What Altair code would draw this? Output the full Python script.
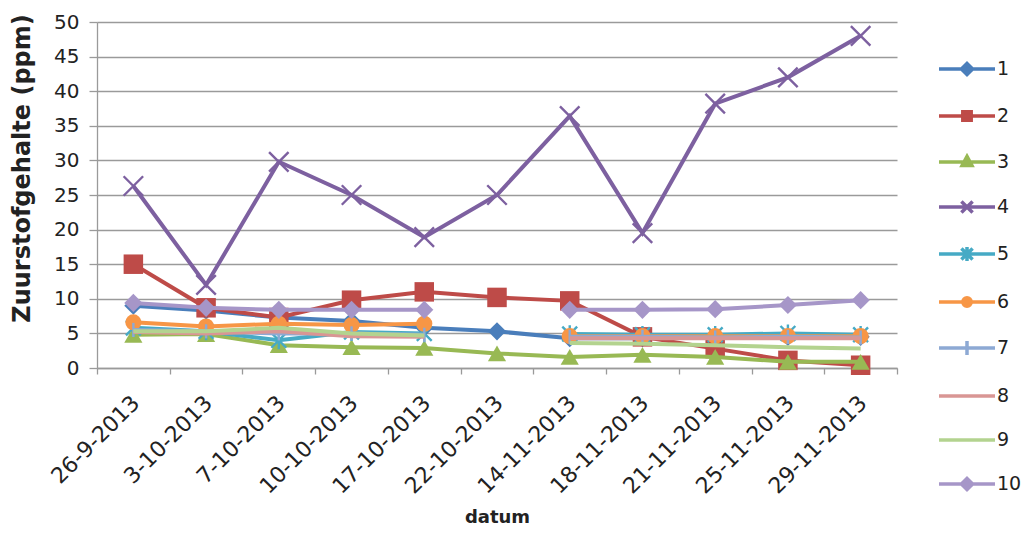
import altair as alt
import pandas as pd

dates = ["26-9-2013", "3-10-2013", "7-10-2013", "10-10-2013", "17-10-2013",
         "22-10-2013", "14-11-2013", "18-11-2013", "21-11-2013", "25-11-2013",
         "29-11-2013"]
series_names = ["1", "2", "3", "4", "5", "6", "7", "8", "9", "10"]

s1 = [9.0, 8.3, 7.3, 6.8, 5.8, 5.3, 4.3, 4.3, 4.4, 4.5, 4.5]
s2 = [15.0, 8.7, 7.3, 9.8, 11.0, 10.2, 9.7, 4.5, 2.8, 1.1, 0.4]
s3 = [4.8, 4.9, 3.3, 3.0, 2.9, 2.1, 1.6, 1.9, 1.6, 0.9, 0.9]
s4 = [26.3, 12.0, 29.8, 25.0, 18.9, 25.0, 36.4, 19.5, 38.2, 42.0, 48.0]
s5 = [5.8, 5.3, 4.0, 5.2, 5.0, None, 4.9, 4.8, 4.8, 5.0, 4.8]
s6 = [6.6, 6.0, 6.4, 6.2, 6.4, None, 4.6, 4.6, 4.6, 4.6, 4.6]
s7 = [5.5, 5.3, 5.0, 5.0, 4.8, None, 4.5, 4.5, 4.4, 4.5, 4.4]
s8 = [5.2, 5.0, 5.3, 4.6, 4.5, None, 4.3, 4.3, 4.3, 4.3, 4.3]
s9 = [5.3, 5.3, 5.8, 5.0, 4.7, None, 3.6, 3.5, 3.3, 3.0, 2.8]
s10 = [9.4, 8.7, 8.4, 8.4, 8.4, None, 8.4, 8.4, 8.5, 9.1, 9.8]
all_series = [s1, s2, s3, s4, s5, s6, s7, s8, s9, s10]

y_ticks = [0, 5, 10, 15, 20, 25, 30, 35, 40, 45, 50]

colors = ["#4A7EBB", "#BE4B48", "#98B954", "#7D60A0", "#46AAC5",
          "#F79646", "#8DA9D4", "#D99694", "#B3D38F", "#A696C8"]

X_PATH = "M-1,-1L1,1M-1,1L1,-1"
AST_PATH = "M-1,-1L1,1M-1,1L1,-1M0,-1.2L0,1.2"
PLUS_PATH = "M0,-1L0,1"
# (shape, filled, size) for each series marker
markers = [("diamond", True, 330), ("square", True, 380), ("triangle-up", True, 330),
           (X_PATH, False, 380), (AST_PATH, False, 220), ("circle", True, 260),
           (PLUS_PATH, False, 200), None, None, ("diamond", True, 330)]

legend_paths = [
    "M-2,0L2,0M0,-0.4L0.4,0L0,0.4L-0.4,0Z",
    "M-2,0L2,0M-0.3,-0.3L0.3,-0.3L0.3,0.3L-0.3,0.3Z",
    "M-2,0L2,0M0,-0.4L0.35,0.25L-0.35,0.25Z",
    "M-2,0L2,0M-0.4,-0.4L0.4,0.4M-0.4,0.4L0.4,-0.4",
    "M-2,0L2,0M-0.4,-0.4L0.4,0.4M-0.4,0.4L0.4,-0.4M0,-0.5L0,0.5",
    "M-2,0L2,0M0.3,0A0.3,0.3 0 1,1 -0.3,0A0.3,0.3 0 1,1 0.3,0Z",
    "M-2,0L2,0M0,-0.5L0,0.5",
    "M-2,0L2,0",
    "M-2,0L2,0",
    "M-2,0L2,0M0,-0.4L0.4,0L0,0.4L-0.4,0Z",
]

rows = []
for name, vals in zip(series_names, all_series):
    for d, v in zip(dates, vals):
        rows.append({"datum": d, "serie": name, "v": v})
df = pd.DataFrame(rows)

FONT = "DejaVu Sans"

x_enc = alt.X("datum:N", sort=dates,
              scale=alt.Scale(type="band", paddingInner=0, paddingOuter=0),
              bandPosition=0.5,
              axis=alt.Axis(title="datum", labelAngle=-45, labelFontSize=22,
                            labelFont=FONT, labelColor="#222", labelPadding=18,
                            labelOffset=-5,
                            tickBand="extent", tickSize=6, grid=False,
                            titleFont=FONT, titleFontSize=18, titleFontWeight="bold",
                            titleColor="#222", titleY=149, titleBaseline="middle"))
y_enc = alt.Y("v:Q", scale=alt.Scale(domain=[0, 50], nice=False),
              axis=alt.Axis(title="Zuurstofgehalte (ppm)", values=y_ticks,
                            labelFontSize=20, labelFont=FONT, labelColor="#222",
                            tickSize=8, labelPadding=10,
                            titleFont=FONT, titleFontSize=24, titleFontWeight="bold",
                            titleColor="#222", titleX=-75, titleY=146,
                            titleBaseline="middle"))
color_enc = alt.Color("serie:N", scale=alt.Scale(domain=series_names, range=colors),
                      legend=None)

base = alt.Chart(df)
layers = []
for i, name in enumerate(series_names):
    sub = base.transform_filter(alt.datum.serie == name)
    layers.append(sub.mark_line(strokeWidth=4, invalid="break-paths-show-domains")
                  .encode(x=x_enc, y=y_enc, color=color_enc))
    m = markers[i]
    if m is not None:
        shape, filled, size = m
        if filled:
            pt = sub.transform_filter("isValid(datum.v)").mark_point(
                shape=shape, filled=True, size=size, opacity=1)
        else:
            pt = sub.transform_filter("isValid(datum.v)").mark_point(
                shape=shape, filled=False, size=size, strokeWidth=2.4, opacity=1)
        layers.append(pt.encode(x=x_enc, y=y_enc, color=color_enc))

leg_color = alt.ExprRef(expr="scale('color', datum.value)")
leg = alt.Legend(title=None, orient="none", legendX=854, legendY=31, padding=0,
                 rowPadding=18, labelOffset=14, labelFontSize=19, labelFont=FONT,
                 labelColor="#222", symbolSize=784, symbolStrokeWidth=3.5,
                 symbolFillColor=leg_color, symbolStrokeColor=leg_color,
                 symbolOpacity=1)
dummy = base.transform_filter("isValid(datum.v)").mark_point(filled=True, opacity=0).encode(
    x=x_enc, y=y_enc,
    shape=alt.Shape("serie:N", scale=alt.Scale(domain=series_names, range=legend_paths), legend=leg),
    fill=alt.Fill("serie:N", scale=alt.Scale(domain=series_names, range=colors), legend=leg),
    stroke=alt.Stroke("serie:N", scale=alt.Scale(domain=series_names, range=colors), legend=leg),
)
layers.insert(0, dummy)

chart = alt.layer(*layers).properties(
    width=800, height=346,
    autosize=alt.AutoSizeParams(type="none"),
    padding={"left": 89, "top": 14, "right": 124, "bottom": 159},
    background="white",
).configure_view(strokeWidth=0).configure_axis(
    gridColor="#9a9a9a", gridWidth=1.3, domainColor="#9a9a9a", domainWidth=1.3,
    tickColor="#9a9a9a", tickWidth=1.3,
)

chart.save("out.html", embed_options={"renderer": "svg", "actions": False})
